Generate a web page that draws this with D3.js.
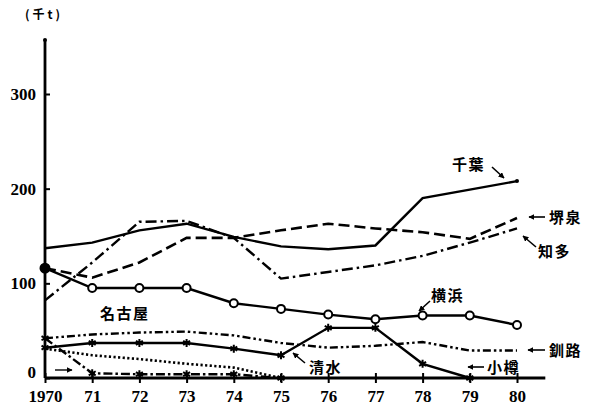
<!DOCTYPE html>
<html>
<head>
<meta charset="utf-8">
<script src="https://cdn.jsdelivr.net/npm/d3@7"></script>
<style>
  body { margin: 0; background: #fff; }
  .num { font-family: "Liberation Serif", "DejaVu Serif", serif; font-weight: bold; font-size: 17px; }
  .jp { font-family: "Noto Sans CJK JP", sans-serif; font-weight: bold; }
</style>
</head>
<body>
<div id="chart"></div>
<script>
// values (千t)
var years = [1970, 1971, 1972, 1973, 1974, 1975, 1976, 1977, 1978, 1979, 1980];
var yearLabels = ["1970", "71", "72", "73", "74", "75", "76", "77", "78", "79", "80"];
var yTicks = [0, 100, 200, 300];

var chiba    = [137, 143, 156, 163, 149, 139, 136, 140, 190, 199, 208];
var sakai    = [116, 106, 122, 148, 148, 156, 163, 158, 154, 147, 169];
var chita    = [82, 122, 165, 166, 148, 105, 112, 119, 129, 143, 158];
var yokohama = [116, 95, 95, 95, 79, 73, 67, 62, 66, 66, 56];
var shimizu  = [32, 37, 37, 37, 31, 24, 53, 53, 15, 0];          // 1970-79
var kushiro  = [42, 46, 48, 49, 45, 37, 32, 34, 38, 29, 29];
var dotted   = [31, 24, 20, 15, 11, 0];                          // 1970-75
var otaru    = [42, 5, 4, 4, 4, 0];                              // 1970-75

var width = 591, height = 414;

var svg = d3.select("#chart").append("svg")
  .attr("width", width)
  .attr("height", height);

var x = d3.scaleLinear().domain([1970, 1980]).range([45, 517]);
var y = d3.scaleLinear().domain([0, 300]).range([378, 94]);

// arrow head
svg.append("defs").append("marker")
  .attr("id", "head")
  .attr("viewBox", "0 0 10 10")
  .attr("refX", 9).attr("refY", 5)
  .attr("markerWidth", 6).attr("markerHeight", 6)
  .attr("markerUnits", "userSpaceOnUse")
  .attr("orient", "auto")
  .append("path").attr("d", "M0,0L10,5L0,10z").attr("fill", "#000");

// axes
var yAxis = svg.append("g")
  .attr("transform", "translate(" + x(1970) + ",0)")
  .call(d3.axisLeft(y).tickValues(yTicks).tickSize(5).tickSizeOuter(0).tickPadding(4));
yAxis.select(".domain").remove();
yAxis.selectAll(".tick line").attr("x2", 5).attr("stroke-width", 2);
yAxis.selectAll(".tick text").attr("class", "num").attr("font-size", null).attr("font-family", null)
  .attr("dy", function(d) { return d === 0 ? "-0.05em" : "0.32em"; });

var xAxis = svg.append("g")
  .attr("transform", "translate(0," + y(0) + ")")
  .call(d3.axisBottom(x).tickValues(years).tickFormat(function(d, i) { return yearLabels[i]; })
    .tickSize(5).tickSizeOuter(0).tickPadding(7));
xAxis.select(".domain").remove();
xAxis.selectAll(".tick line").attr("y1", -5).attr("stroke-width", 2);
xAxis.selectAll(".tick text").attr("class", "num").attr("font-size", null).attr("font-family", null);

svg.append("line")
  .attr("x1", x(1970)).attr("x2", x(1970))
  .attr("y1", y(0)).attr("y2", y(357))
  .attr("stroke", "#000").attr("stroke-width", 2.8);
svg.append("circle").attr("cx", x(1970)).attr("cy", y(357)).attr("r", 2).attr("fill", "#000");
svg.append("line")
  .attr("x1", x(1970)).attr("x2", x(1980.6))
  .attr("y1", y(0)).attr("y2", y(0))
  .attr("stroke", "#000").attr("stroke-width", 2.8);

svg.append("text").attr("class", "jp").attr("x", 25).attr("y", 19)
  .style("font-size", "12px").attr("letter-spacing", "3px").text("(千t)");

// series
var line = d3.line()
  .x(function(d, i) { return x(years[i]); })
  .y(function(d) { return y(d); });

function drawSeries(values, dash, w) {
  svg.append("path")
    .datum(values)
    .attr("d", line)
    .attr("fill", "none")
    .attr("stroke", "#000")
    .attr("stroke-width", w || 2.4)
    .attr("stroke-dasharray", dash);
}

drawSeries(dotted, "2.2,2.4", 2.6);
drawSeries(kushiro, "8,3,2.5,3,2.5,3", 2.4);
drawSeries(otaru, "9,3,2.5,3", 2.4);
drawSeries(shimizu, null, 2.4);
drawSeries(chita, "11,4,2.5,4", 2.4);
drawSeries(sakai, "11,5", 2.6);
drawSeries(chiba, null, 2.4);
drawSeries(yokohama, null, 2.4);

var star = d3.symbol().type(d3.symbolAsterisk).size(45);
function drawStars(values) {
  svg.append("g").selectAll("path")
    .data(values)
    .enter().append("path")
    .attr("d", star)
    .attr("transform", function(d, i) { return "translate(" + x(years[i]) + "," + y(d) + ")"; })
    .attr("fill", "none")
    .attr("stroke", "#000")
    .attr("stroke-width", 2);
}
drawStars(shimizu);
drawStars(otaru);

svg.append("g").selectAll("circle")
  .data(yokohama)
  .enter().append("circle")
  .attr("cx", function(d, i) { return x(years[i]); })
  .attr("cy", function(d) { return y(d); })
  .attr("r", function(d, i) { return i === 0 ? 4.5 : 4; })
  .attr("fill", function(d, i) { return i === 0 ? "#000" : "#fff"; })
  .attr("stroke", "#000")
  .attr("stroke-width", 2);

svg.append("circle").attr("cx", x(1980)).attr("cy", y(chiba[10])).attr("r", 2).attr("fill", "#000");

// labels and pointers
var labels = [
  { t: "千葉", x: 452, y: 170, a: [492, 167, 504, 178] },
  { t: "堺泉", x: 549, y: 223, a: [545, 217, 529, 217] },
  { t: "知多", x: 538, y: 257, a: [536, 247, 523, 236] },
  { t: "横浜", x: 431, y: 301, a: [430, 301, 419, 311] },
  { t: "名古屋", x: 100, y: 319, a: null },
  { t: "釧路", x: 549, y: 356, a: [545, 350, 528, 350] },
  { t: "清水", x: 309, y: 373, a: [305, 363, 293, 353] },
  { t: "小樽", x: 487, y: 373, a: [484, 367, 468, 367] }
];

labels.forEach(function(l) {
  svg.append("text").attr("class", "jp").attr("x", l.x).attr("y", l.y)
    .style("font-size", "15px").attr("letter-spacing", "1.5px").text(l.t);
  if (l.a) {
    svg.append("line")
      .attr("x1", l.a[0]).attr("y1", l.a[1]).attr("x2", l.a[2]).attr("y2", l.a[3])
      .attr("stroke", "#000").attr("stroke-width", 1.6)
      .attr("marker-end", "url(#head)");
  }
});

svg.append("line")
  .attr("x1", 55).attr("y1", 370).attr("x2", 72).attr("y2", 370)
  .attr("stroke", "#000").attr("stroke-width", 1.4)
  .attr("marker-end", "url(#head)");
</script>
</body>
</html>
